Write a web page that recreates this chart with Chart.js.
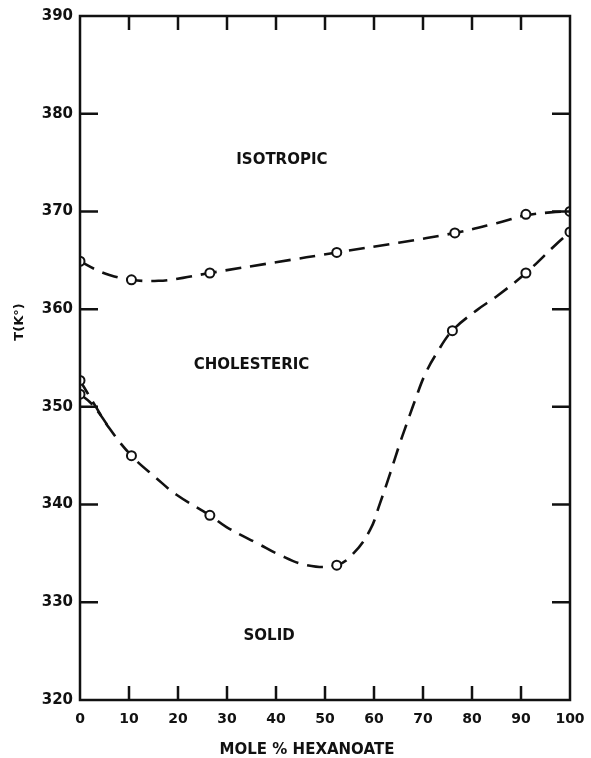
<!DOCTYPE html>
<html>
<head>
<meta charset="utf-8">
<script src="https://cdn.jsdelivr.net/npm/chart.js@4/dist/chart.umd.min.js"></script>
<style>
  html, body { margin: 0; padding: 0; background: #fff; }
  #chart { display: block; }
</style>
</head>
<body>
<canvas id="chart" width="591" height="758"></canvas>
<script>
// measured points (open circles)
var UPPER_X = [0, 10.5, 26.5, 52.4, 76.5, 91, 100];
var UPPER_T = [364.9, 363.0, 363.7, 365.8, 367.8, 369.7, 370.0];
var LOWER_X = [0, 0, 10.5, 26.5, 52.4, 76, 91, 100];
var LOWER_T = [352.7, 351.3, 345.0, 338.9, 333.8, 357.8, 363.7, 367.9];

// dashed curves
var UPPER_CURVE_X = [0, 3, 6, 10.5, 16, 21, 26.5, 40, 52.4, 65, 76.5, 85, 91, 96, 100];
var UPPER_CURVE_T = [364.9, 364.1, 363.5, 363.0, 362.9, 363.2, 363.7, 364.8, 365.8, 366.8, 367.8, 368.8, 369.6, 369.9, 370.0];
var LOWER_CURVE_X = [0, 3, 6, 10.5, 15.6, 19.7, 26.5, 29.9, 36.7, 40.1, 46.3, 52.4, 55.8, 59.2, 61.2, 63.3, 65.3, 66.7, 68.4, 70.4, 72.8, 76, 81, 85, 91, 97.3, 100];
var LOWER_CURVE_T = [352.7, 350.2, 347.8, 345.0, 342.7, 341.0, 338.9, 337.7, 335.9, 335.0, 333.8, 333.8, 335.0, 337.4, 340.1, 343.2, 346.3, 348.3, 350.7, 353.3, 355.5, 357.8, 359.9, 361.3, 363.7, 366.7, 367.9];
var BRANCH_X = [0, 2, 4, 6];
var BRANCH_T = [351.3, 350.5, 349.3, 347.8];

// axes
var X_MIN = 0, X_MAX = 100, X_STEP = 10;
var Y_MIN = 320, Y_MAX = 390, Y_STEP = 10;
var X_TITLE = 'MOLE % HEXANOATE';
var Y_TITLE = 'T(K°)';

// region labels: [text, x value, T value]
var REGIONS = [
    ['ISOTROPIC', 41.2, 375.3],
    ['CHOLESTERIC', 35.0, 354.3],
    ['SOLID', 38.6, 326.5]
];

var FONT = 'DejaVu Sans';
var INK = '#111';

function pts(xs, ys) {
    return xs.map(function (x, i) { return { x: x, y: ys[i] }; });
}

function curve(xs, ys) {
    return {
        data: pts(xs, ys),
        showLine: true,
        borderColor: INK,
        borderWidth: 2.6,
        borderDash: [16, 9],
        pointRadius: 0,
        tension: 0.4,
        order: 2
    };
}

function marks(xs, ys) {
    return {
        data: pts(xs, ys),
        showLine: false,
        pointRadius: 4.5,
        pointBorderWidth: 2,
        pointBorderColor: INK,
        pointBackgroundColor: '#fff',
        order: 0
    };
}

// frame, inward ticks, titles and region names
var decorations = {
    id: 'decorations',
    afterDatasetsDraw: function (chart) {
        var ctx = chart.ctx;
        var a = chart.chartArea;
        var xs = chart.scales.x, ys = chart.scales.y;
        ctx.save();
        ctx.strokeStyle = INK;
        ctx.lineWidth = 2.5;
        ctx.strokeRect(a.left, a.top, a.right - a.left, a.bottom - a.top);

        ctx.beginPath();
        for (var v = Y_MIN + Y_STEP; v < Y_MAX; v += Y_STEP) {
            var py = ys.getPixelForValue(v);
            ctx.moveTo(a.left, py); ctx.lineTo(a.left + 18, py);
            ctx.moveTo(a.right, py); ctx.lineTo(a.right - 18, py);
        }
        for (var u = X_MIN + X_STEP; u < X_MAX; u += X_STEP) {
            var px = xs.getPixelForValue(u);
            ctx.moveTo(px, a.bottom); ctx.lineTo(px, a.bottom - 14);
            ctx.moveTo(px, a.top); ctx.lineTo(px, a.top + 14);
        }
        ctx.stroke();

        ctx.fillStyle = INK;
        ctx.font = 'bold 15px ' + FONT;
        ctx.textAlign = 'center';
        ctx.textBaseline = 'middle';
        REGIONS.forEach(function (r) {
            ctx.fillText(r[0], xs.getPixelForValue(r[1]), ys.getPixelForValue(r[2]));
        });

        ctx.fillText(X_TITLE, 307, 750);

        ctx.translate(20, 322);
        ctx.rotate(-Math.PI / 2);
        ctx.font = 'bold 13px ' + FONT;
        ctx.fillText(Y_TITLE, 0, 0);
        ctx.restore();
    }
};

new Chart(document.getElementById('chart'), {
    type: 'scatter',
    data: {
        datasets: [
            marks(UPPER_X, UPPER_T),
            marks(LOWER_X, LOWER_T),
            curve(UPPER_CURVE_X, UPPER_CURVE_T),
            curve(LOWER_CURVE_X, LOWER_CURVE_T),
            curve(BRANCH_X, BRANCH_T)
        ]
    },
    options: {
        responsive: false,
        animation: false,
        layout: { padding: { top: 16, right: 21, left: 0, bottom: 0 } },
        plugins: { legend: { display: false }, tooltip: { enabled: false } },
        scales: {
            x: {
                type: 'linear', min: X_MIN, max: X_MAX,
                grid: { display: false, drawTicks: false },
                border: { display: false },
                ticks: { stepSize: X_STEP, padding: 11, color: INK, font: { family: FONT, weight: 'bold', size: 14 } },
                afterFit: function (s) { s.height = 58; s.paddingRight = 0; s.paddingLeft = 0; }
            },
            y: {
                type: 'linear', min: Y_MIN, max: Y_MAX,
                grid: { display: false, drawTicks: false },
                border: { display: false },
                ticks: { stepSize: Y_STEP, padding: 7, color: INK, font: { family: FONT, weight: 'bold', size: 15 } },
                afterFit: function (s) { s.width = 80; s.paddingTop = 0; s.paddingBottom = 0; }
            }
        }
    },
    plugins: [decorations]
});
</script>
</body>
</html>
